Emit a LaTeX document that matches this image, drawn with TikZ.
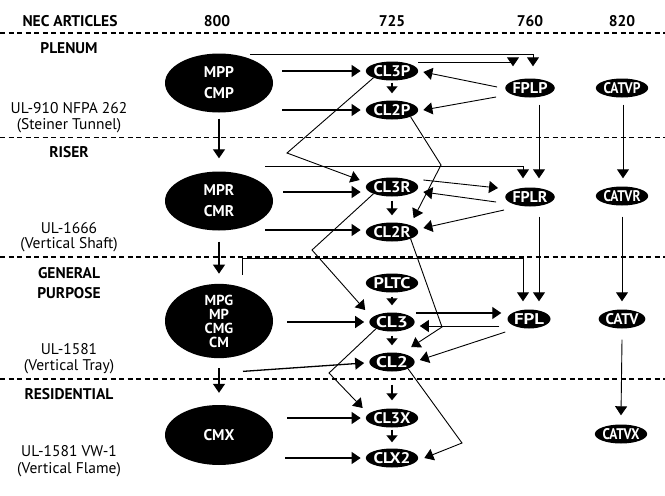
\documentclass[tikz,border=0pt]{standalone}
\usepackage{fontspec}
\setmainfont{PT Sans}
\usetikzlibrary{arrows.meta,shapes.geometric,calc}
\newcommand\fitlab[2]{\resizebox{#1pt}{11pt}{#2}}
\tikzset{
  big/.style={ellipse, fill=black, text=white, font=\bfseries\fontsize{15.5}{21}\selectfont,
    minimum width=108pt, minimum height=59pt, inner sep=0pt, align=center},
  sm/.style={ellipse, fill=black, text=white, font=\bfseries\fontsize{15.5}{16}\selectfont,
    minimum width=43pt, minimum height=19pt, inner sep=0pt},
  hdr/.style={font=\bfseries\fontsize{15.5}{16}\selectfont, anchor=base, inner sep=0pt},
  lbl/.style={font=\fontsize{15.5}{16}\selectfont, anchor=base, inner sep=0pt},
  arr/.style={-{Triangle[length=9pt,width=12pt]}, line width=1.3pt},
  tarr/.style={-{Triangle[length=9pt,width=12pt]}, line width=0.9pt},
  sarr/.style={-{Triangle[length=7pt,width=11pt]}, line width=1.3pt},
  sep/.style={dash pattern=on 5pt off 3.5pt, line width=1.3pt},
}
\begin{document}
\begin{tikzpicture}[x=1pt,y=-1pt]
\fill[white] (0,0) rectangle (665,496);
\useasboundingbox (0,0) rectangle (665,496);

% separators
\draw[sep] (0,33) -- (665,33);
\draw[sep] (0,137.5) -- (665,137.5);
\draw[sep] (0,257) -- (665,257);
\draw[sep] (0,379) -- (665,379);

% headers
\node[hdr] (hNEC) at (70,26) {NEC ARTICLES};
\node[hdr] (h800) at (217,26) {800};
\node[hdr] (h725) at (392,26) {725};
\node[hdr] (h760) at (530,26) {760};
\node[hdr] (h820) at (622,26) {820};

% left labels
\node[hdr] (sPlen) at (69,53) {PLENUM};
\node[lbl] (tA1) at (69,113) {UL-910 NFPA 262};
\node[lbl] (tA2) at (69,129.5) {(Steiner Tunnel)};
\node[hdr] (sRis) at (69,157) {RISER};
\node[lbl] (tB1) at (69,233) {UL-1666};
\node[lbl] (tB2) at (69,248.5) {(Vertical Shaft)};
\node[hdr] (sGen1) at (69,278) {GENERAL};
\node[hdr] (sGen2) at (69,298) {PURPOSE};
\node[lbl] (tC1) at (69,354) {UL-1581};
\node[lbl] (tC2) at (69,370.5) {(Vertical Tray)};
\node[hdr] (sRes) at (69,399) {RESIDENTIAL};
\node[lbl] (tD1) at (69,456) {UL-1581 VW-1};
\node[lbl] (tD2) at (69,473) {(Vertical Flame)};

% 800 column
\node[big] (MPP) at (219,83) {MPP\\CMP};
\node[big] (MPR) at (219,201) {MPR\\CMR};
\node[big, font=\bfseries\fontsize{14.5}{14}\selectfont] (MPG) at (219,321) {MPG\\MP\\CMG\\CM};
\node[big, minimum height=60pt] (CMX) at (219,435) {CMX};

% 725 column
\node[sm] (CL3P) at (392,71) {\fitlab{37}{CL3P}};
\node[sm] (CL2P) at (392,110) {\fitlab{37}{CL2P}};
\node[sm] (CL3R) at (392,187) {\fitlab{37}{CL3R}};
\node[sm] (CL2R) at (392,232) {\fitlab{37}{CL2R}};
\node[sm] (PLTC) at (392,283) {\fitlab{37}{PLTC}};
\node[sm] (CL3) at (392,322) {\fitlab{32}{CL3}};
\node[sm] (CL2) at (392,362) {\fitlab{32}{CL2}};
\node[sm] (CL3X) at (392,418) {\fitlab{37}{CL3X}};
\node[sm] (CLX2) at (392,458) {\fitlab{37}{CLX2}};

% 760 column
\node[sm] (FPLP) at (530,88) {\fitlab{35}{FPLP}};
\node[sm] (FPLR) at (530,197) {\fitlab{35}{FPLR}};
\node[sm] (FPL) at (529,319) {\fitlab{30}{FPL}};

% 820 column
\node[sm] (CATVP) at (622,88) {\fitlab{37}{CATVP}};
\node[sm] (CATVR) at (622,196) {\fitlab{37}{CATVR}};
\node[sm] (CATV) at (622,319) {\fitlab{33}{CATV}};
\node[sm] (CATVX) at (621,434) {\fitlab{37}{CATVX}};

% zigzag corners
\coordinate (z1) at (287,153);
\coordinate (z2) at (441,165);
\coordinate (z3) at (312,250);
\coordinate (z4) at (442,327);
\coordinate (z5) at (329,373);
\coordinate (z6) at (462,443);

% plenum
\draw[arr] ($(MPP.east |- CL3P.west)+(9,0)$) -- ($(CL3P.west)+(-5,0)$);
\draw[arr] ($(MPP.east |- CL2P.west)+(9,0)$) -- ($(CL2P.west)+(-5,0)$);
\draw[tarr] ($(MPP.north)+(31,1)$) -| ($(FPLP.north)+(3,-12)$);
\draw[tarr] ($(CL3P.east)+(0,-9)$) -| ($(FPLP.north)+(-17,-12)$);
\draw[tarr] ($(FPLP.west)+(-8,-1)$) -- ($(CL3P.east)+(5,1)$);
\draw[tarr] ($(FPLP.west)+(-9,9)$) -- ($(CL2P.east)+(5,0)$);
\draw[sarr] ($(CL3P.south)+(0,2)$) -- ($(CL2P.north)+(0,-7)$);
\draw[tarr] (CL3P.south west) -- (z1) -- ($(CL3R.west)+(-6,-7)$);
\draw[tarr] (CL2P.south east) -- (z2) -- ($(CL2R.north east)+(3,-7)$);
\draw[arr] ($(MPP.south)+(0,6)$) -- ($(MPR.north)+(0,-13)$);
\draw[tarr] ($(FPLP.south)+(9,7)$) -- ($(FPLR.north)+(9,-9)$);
\draw[tarr] ($(CATVP.south)+(1,7)$) -- ($(CATVR.north)+(1,-8)$);

% riser
\draw[arr] ($(MPR.east |- CL3R.west)+(10,5)$) -- ($(CL3R.west)+(-5,5)$);
\draw[arr] ($(MPR.east |- CL2R.west)+(-8,-2)$) -- ($(CL2R.west)+(-5,-2)$);
\draw[tarr] ($(MPR.north)+(46,-5)$) -| ($(FPLR.north)+(-7,-9)$);
\draw[tarr] ($(CL3R.east)+(5,-7)$) -- ($(FPLR.west)+(-7,-9)$);
\draw[tarr] ($(FPLR.west)+(-9,5)$) -- ($(CL3R.east)+(5,5)$);
\draw[tarr] ($(FPLR.west)+(-1,13)$) -- ($(CL2R.east)+(5,-4)$);
\draw[sarr] ($(CL3R.south)+(0,4)$) -- ($(CL2R.north)+(0,-7)$);
\draw[tarr] (CL3R.south west) -- (z3) -- ($(CL3.west)+(-4,-12)$);
\draw[tarr] (CL2R.south east) -- (z4) -- ($(CL2.north east)+(3,-8)$);
\draw[arr] ($(MPR.south)+(0,11)$) -- ($(MPG.north)+(0,-10)$);
\draw[tarr] ($(FPLR.south)+(9,10)$) -- ($(FPL.north)+(10,-8)$);
\draw[tarr] ($(CATVR.south)+(0,11)$) -- ($(CATV.north)+(0,-8)$);

% general purpose
\draw[tarr] ($(MPG.north)+(23,-9)$) -- ++(0,-16) -| ($(FPL.north)+(-6,-8)$);
\draw[sarr] ($(PLTC.south)+(0,4)$) -- ($(CL3.north)+(0,-7)$);
\draw[arr] ($(MPG.east |- CL3.west)+(14,0)$) -- ($(CL3.west)+(-5,0)$);
\draw[arr] ($(MPG.south)+(24,13)$) -- ($(CL2.west)+(-5,1)$);
\draw[arr] ($(CL3.east)+(1,-9)$) -- ($(FPL.west)+(-6,-6)$);
\draw[tarr] ($(FPL.west)+(-8,7)$) -- ($(CL3.east)+(5,4)$);
\draw[tarr] ($(FPL.west)+(-2,13)$) -- ($(CL2.east)+(5,-2)$);
\draw[sarr] ($(CL3.south)+(0,4)$) -- ($(CL2.north)+(0,-7)$);
\draw[tarr] (CL3.south west) -- (z5) -- ($(CL3X.west)+(-3,-10)$);
\draw[tarr] (CL2.south east) -- (z6) -- ($(CLX2.east)+(6,0)$);
\draw[arr] ($(MPG.south)+(0,10)$) -- ($(CMX.north)+(0,-12)$);
\draw[tarr] ($(CATV.south)+(0,11)$) -- ($(CATVX.north)+(0,-9)$);

% residential
\draw[sarr] ($(CL2.south)+(0,13)$) -- ($(CL3X.north)+(0,-8)$);
\draw[arr] ($(CMX.east |- CL3X.west)+(14,0)$) -- ($(CL3X.west)+(-5,0)$);
\draw[arr] ($(CMX.east |- CLX2.west)+(12,0)$) -- ($(CLX2.west)+(-5,0)$);
\draw[sarr] ($(CL3X.south)+(0,2)$) -- ($(CLX2.north)+(0,-6)$);
\end{tikzpicture}
\end{document}
